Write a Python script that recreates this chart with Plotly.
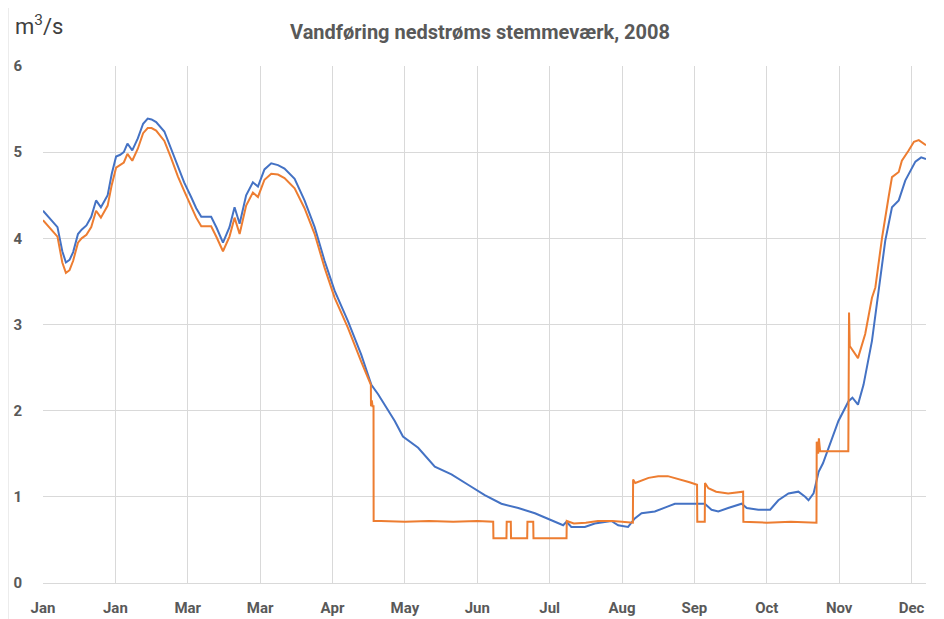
import pandas as pd
import plotly.graph_objects as go

# ---- data (day offset from 2008-01-01, flow in m3/s) ----
blue_days = [0, 3, 6, 8, 9.5, 11, 12.5, 14.5, 16, 18, 20, 22, 24, 26.8, 28.5, 30.3, 32, 33.5, 35, 37,
             39.3, 41.5, 43.4, 45, 46.9, 50.3, 53, 55.9, 58.5, 61.4, 63.5, 65.6, 69.7, 72, 74.6, 77.3,
             79.4, 81.5, 84.2, 87, 89.1, 91.8, 94.6, 97.4, 100.1, 104.3, 108.4, 112.6, 116.7, 120.9,
             126.4, 131.9, 136.1, 138.9, 141.6, 145.8, 149.2, 155.5, 162.4, 169.3, 176.2, 183.1, 190,
             197, 203.9, 210.8, 215.6, 217, 219, 224.6, 228.7, 235.6, 238.4, 242.5, 245.3, 248.1,
             253.6, 259.1, 261.9, 270.2, 274.3, 277.1, 279.9, 284, 289.6, 291.7, 296.5, 301.4, 304.8,
             309, 313.1, 315.9, 317.3, 319.4, 321.5, 323.3, 327, 329.7, 333.9, 335.5, 337.8, 340.1,
             343.6, 346.3, 349.1, 351.9, 354.7, 357.4, 361.6, 364, 366]
blue_flow = [4.32, 4.22, 4.13, 3.85, 3.72, 3.75, 3.84, 4.05, 4.10, 4.15, 4.25, 4.44, 4.36, 4.50, 4.75,
             4.95, 4.97, 5.00, 5.10, 5.02, 5.16, 5.33, 5.39, 5.38, 5.35, 5.24, 5.05, 4.83, 4.65, 4.48,
             4.35, 4.25, 4.25, 4.12, 3.95, 4.13, 4.36, 4.17, 4.50, 4.65, 4.60, 4.80, 4.87, 4.85, 4.81,
             4.69, 4.44, 4.13, 3.74, 3.39, 3.04, 2.65, 2.30, 2.19, 2.07, 1.88, 1.70, 1.57, 1.35, 1.26,
             1.14, 1.02, 0.92, 0.87, 0.81, 0.73, 0.67, 0.71, 0.65, 0.65, 0.69, 0.72, 0.67, 0.65, 0.75,
             0.81, 0.83, 0.89, 0.92, 0.92, 0.92, 0.85, 0.83, 0.87, 0.92, 0.87, 0.85, 0.85, 0.96, 1.04,
             1.06, 1.00, 0.96, 1.04, 1.29, 1.39, 1.68, 1.88, 2.11, 2.15, 2.07, 2.30, 2.81, 3.35, 3.97,
             4.36, 4.44, 4.67, 4.89, 4.94, 4.92]

orange_days = [0, 3, 6, 8, 9.5, 11, 12.5, 14.5, 16, 18, 20, 22, 24, 26.8, 28.5, 30.3, 32, 33.5, 35, 37,
               39.3, 41.5, 43.4, 45, 46.9, 50.3, 53, 55.9, 58.5, 61.4, 63.5, 65.6, 69.7, 72, 74.6, 77.3,
               79.4, 81.5, 84.2, 87, 89.1, 91.8, 94.6, 97.4, 100.1, 104.3, 108.4, 112.6, 116.7, 120.9,
               126.4, 131.9, 135.9, 135.95, 136.3, 136.6, 137.0, 137.05, 140, 150, 160, 170, 180,
               186.6, 186.7, 192.1, 192.2, 193.9, 194.0, 200.7, 200.8, 203.2, 203.3, 217.0, 217.1,
               220, 225, 230, 236, 240, 244.5, 244.6, 245.5, 251, 255, 259, 264.8, 268, 271.1, 271.2,
               274.3, 274.4, 275.8, 279, 284, 290.2, 290.3, 300, 310, 320.6, 320.7, 321.3, 321.6, 322.1,
               333.8, 334.1, 334.4, 336, 337.8, 340.8, 343.6, 345, 347.8, 350.5, 351.9, 354.7, 356,
               358.8, 361, 363, 366]
orange_flow = [4.21, 4.11, 4.02, 3.72, 3.60, 3.63, 3.74, 3.95, 4.00, 4.04, 4.13, 4.32, 4.24, 4.38, 4.62,
               4.82, 4.85, 4.88, 4.98, 4.90, 5.04, 5.22, 5.28, 5.28, 5.25, 5.13, 4.94, 4.72, 4.55, 4.37,
               4.24, 4.14, 4.14, 4.01, 3.85, 4.02, 4.24, 4.05, 4.38, 4.53, 4.48, 4.68, 4.75, 4.74, 4.70,
               4.58, 4.35, 4.05, 3.66, 3.31, 2.96, 2.57, 2.30, 2.05, 2.12, 2.05, 2.05, 0.72, 0.72, 0.71,
               0.72, 0.71, 0.72, 0.71, 0.52, 0.52, 0.71, 0.71, 0.52, 0.52, 0.71, 0.71, 0.52, 0.52, 0.72,
               0.69, 0.70, 0.72, 0.72, 0.71, 0.70, 1.20, 1.16, 1.22, 1.24, 1.24, 1.20, 1.17, 1.14, 0.71,
               0.71, 1.16, 1.10, 1.06, 1.04, 1.06, 0.71, 0.70, 0.71, 0.70, 1.64, 1.50, 1.68, 1.53,
               1.53, 3.14, 2.75, 2.68, 2.61, 2.89, 3.31, 3.43, 4.01, 4.48, 4.71, 4.77, 4.90, 5.02, 5.12,
               5.14, 5.08]

tick_dates = ["2008-01-01", "2008-01-31", "2008-03-01", "2008-03-31", "2008-04-30", "2008-05-30",
              "2008-06-29", "2008-07-29", "2008-08-28", "2008-09-27", "2008-10-27", "2008-11-26",
              "2008-12-26"]
tick_labels = ["Jan", "Jan", "Mar", "Mar", "Apr", "May", "Jun", "Jul", "Aug", "Sep", "Oct", "Nov", "Dec"]

start = pd.Timestamp("2008-01-01")
blue_x = [start + pd.Timedelta(days=d) for d in blue_days]
orange_x = [start + pd.Timedelta(days=d) for d in orange_days]

fig = go.Figure()
fig.add_trace(go.Scatter(x=blue_x, y=blue_flow, mode="lines",
                         line=dict(color="#4472C4", width=2), name="blue"))
fig.add_trace(go.Scatter(x=orange_x, y=orange_flow, mode="lines",
                         line=dict(color="#ED7D31", width=2), name="orange"))

font_family = "Roboto, Liberation Sans, sans-serif"

# page body adds an 8px offset, so the figure is sized 936x611
W, H = 936, 611
fig.update_layout(
    width=W, height=H,
    margin=dict(l=35, r=18, t=58, b=36),
    paper_bgcolor="white", plot_bgcolor="white",
    showlegend=False,
    font=dict(family=font_family, color="#595959"),
    title=dict(text="Vandføring nedstrøms stemmeværk, 2008",
               x=472 / W, xanchor="center", y=1 - 24 / H, yanchor="middle",
               font=dict(size=20, color="#595959", family=font_family, weight="bold")),
    xaxis=dict(range=[start, start + pd.Timedelta(days=366)],
               tickvals=tick_dates, ticktext=tick_labels,
               showgrid=True, gridcolor="#D9D9D9", gridwidth=1,
               showline=True, linecolor="#D9D9D9", linewidth=1,
               zeroline=False, ticks="", ticklabelstandoff=11, automargin=False,
               tickfont=dict(size=15, color="#595959", weight="bold")),
    yaxis=dict(range=[0, 6], dtick=1, tick0=0,
               showgrid=True, gridcolor="#D9D9D9", gridwidth=1,
               zeroline=False, showline=False, ticks="", ticklabelstandoff=20, automargin=False,
               tickfont=dict(size=15, color="#595959", weight="bold")),
    annotations=[dict(text="m<sup>3</sup>/s", xref="paper", yref="paper",
                      x=(13 - 43) / 883, y=(583 - 25) / 517, xanchor="left", yanchor="middle",
                      showarrow=False, font=dict(size=22, color="#404040", family=font_family))],
    shapes=[dict(type="line", xref="paper", yref="paper",
                 x0=-35 / 883, x1=-35 / 883, y0=-36 / 517, y1=575 / 517,
                 line=dict(color="#D9D9D9", width=1))],
)

fig.write_html("out.html")
